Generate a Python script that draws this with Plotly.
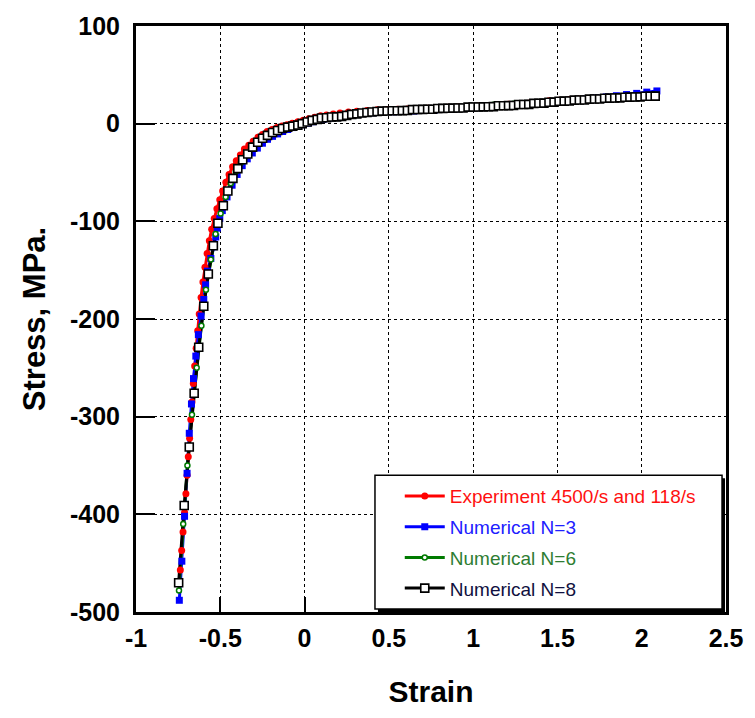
import plotly.graph_objects as go

# ---------------- data ----------------
strain_exp = [-0.737, -0.729, -0.721, -0.712, -0.704, -0.697, -0.690, -0.682, -0.675, -0.668,
              -0.660, -0.652, -0.643, -0.634, -0.625, -0.614, -0.603, -0.591, -0.578, -0.565,
              -0.551, -0.536, -0.520, -0.503, -0.486, -0.467, -0.448, -0.427, -0.405, -0.381,
              -0.357, -0.331, -0.305, -0.277, -0.250, -0.222, -0.193, -0.164, -0.134, -0.104,
              -0.073, -0.040, -0.008, 0.025, 0.060, 0.095, 0.13, 0.17, 0.21, 0.26, 0.31, 0.37,
              0.43, 0.49, 0.55, 0.61, 0.67, 0.73, 0.79, 0.85, 0.91, 0.97, 1.03, 1.09, 1.15,
              1.21, 1.27, 1.33, 1.39, 1.45, 1.51, 1.57, 1.63, 1.69, 1.75, 1.81, 1.87, 1.93, 1.99]
stress_exp = [-457, -437, -418, -398, -379, -360, -341, -322, -303, -285,
              -266, -248, -230, -212, -195, -178, -162, -147, -133, -120,
              -108, -97, -87, -78, -69, -60, -52, -44, -38, -32,
              -26, -22, -18, -14, -11, -8, -6, -4, -2.5, -1,
              0.5, 2, 3.5, 5, 6.5, 8, 9, 10, 11, 12, 12.8, 13.5,
              14.2, 14.5, 14.8, 15.1, 15.5, 15.9, 16.3, 16.7, 17.1, 17.5, 18.0, 18.6, 19.2,
              19.8, 20.4, 21.0, 21.7, 23.5, 24.0, 24.8, 25.2, 25.6, 26.0, 26.5, 27.0, 27.5, 28.0]

strain_n3 = [-0.743, -0.728, -0.712, -0.697, -0.684, -0.671, -0.659, -0.645, -0.630, -0.614,
             -0.598, -0.587, -0.576, -0.556, -0.537, -0.527, -0.518, -0.503, -0.488, -0.46,
             -0.43, -0.40, -0.37, -0.34, -0.31, -0.28, -0.25, -0.22, -0.19, -0.16,
             -0.13, -0.10, -0.07, -0.04, -0.01, 0.02, 0.05, 0.08, 0.11, 0.14,
             0.17, 0.20, 0.23, 0.26, 0.29, 0.32, 0.35, 0.38, 0.41, 0.44, 0.47,
             0.53, 0.59, 0.65, 0.71, 0.77, 0.83, 0.89, 0.95, 1.01, 1.07, 1.13, 1.19, 1.25,
             1.31, 1.37, 1.43, 1.49, 1.55, 1.61, 1.67, 1.73, 1.79, 1.85, 1.91, 1.97, 2.03, 2.09]
stress_n3 = [-488, -448, -402, -358, -317, -287, -261, -238, -216, -197,
             -180, -165, -151, -138, -126, -116, -107, -97, -89, -75,
             -63, -52, -43, -36, -30, -25, -20, -16, -13, -10.5,
             -8, -6, -4, -2.5, -1, 0.5, 2, 3.3, 4.5, 5.5,
             6.4, 7.2, 8, 8.7, 9.3, 9.9, 10.4, 10.9, 11.3, 11.7, 12.0,
             12.2, 12.6, 13.0, 13.5, 14.0, 14.5, 15.1, 15.7, 16.4, 17.1, 17.8, 18.5, 19.3,
             20.1, 20.9, 21.7, 22.5, 23.4, 24.3, 25.3, 26.3, 27.4, 28.6, 29.8, 31.0, 32.3, 33.5]

strain_n6 = [-0.745, -0.72, -0.695, -0.668, -0.64, -0.612, -0.585, -0.556, -0.528, -0.498,
             -0.468, -0.438, -0.408, -0.378, -0.348, -0.318, -0.288, -0.258, -0.228, -0.198,
             -0.168, -0.138, -0.108, -0.078, -0.048, -0.018, 0.012, 0.042, 0.072, 0.10,
             0.13, 0.16, 0.19, 0.22, 0.25, 0.28, 0.31, 0.34, 0.37, 0.40, 0.43, 0.46,
             0.52, 0.58, 0.64, 0.70, 0.76, 0.82, 0.88, 0.94, 1.00, 1.06, 1.12, 1.18, 1.24,
             1.30, 1.36, 1.42, 1.48, 1.54, 1.60, 1.66, 1.72, 1.78, 1.84, 1.90, 1.96, 2.02, 2.08]
stress_n6 = [-478, -410, -350, -298, -250, -207, -170, -139, -113, -92,
             -75, -61, -49, -40, -32, -26, -20, -16, -12.5, -9.5,
             -7, -5, -3.3, -2, -0.8, 0.5, 1.8, 3, 4.2, 5.2,
             6.1, 6.9, 7.6, 8.3, 8.9, 9.5, 10.1, 10.6, 11.1, 11.6, 12.0, 12.4,
             12.3, 12.8, 13.3, 13.9, 14.5, 15.2, 15.9, 16.7, 17.6, 18.5, 19.3, 19.8, 20.3,
             20.8, 21.3, 21.9, 22.6, 23.3, 23.9, 24.4, 24.9, 25.7, 26.6, 27.4, 28.2, 29.0, 29.8]

strain_n8 = [-0.747, -0.714, -0.684, -0.655, -0.628, -0.598, -0.571, -0.541, -0.514, -0.482,
             -0.455, -0.425, -0.396, -0.367, -0.337, -0.308, -0.278, -0.249, -0.22, -0.19,
             -0.16, -0.131, -0.10, -0.07, -0.04, -0.014, 0.016, 0.045, 0.075, 0.10,
             0.13, 0.16, 0.19, 0.22, 0.25, 0.28, 0.31, 0.34, 0.37, 0.40, 0.43, 0.46,
             0.49, 0.52, 0.55, 0.58, 0.61, 0.64, 0.67, 0.70, 0.73, 0.76, 0.79, 0.82,
             0.85, 0.88, 0.91, 0.94, 0.97, 1.00, 1.03, 1.06, 1.09, 1.12, 1.15, 1.18,
             1.21, 1.24, 1.27, 1.30, 1.33, 1.36, 1.39, 1.42, 1.45, 1.48, 1.51, 1.54,
             1.57, 1.60, 1.63, 1.66, 1.69, 1.72, 1.75, 1.78, 1.81, 1.84, 1.87, 1.90,
             1.93, 1.96, 1.99, 2.02, 2.05, 2.08]
stress_n8 = [-470, -391, -331, -276, -229, -187, -154, -125, -102, -84,
             -69, -56, -46, -37, -31, -24, -19, -15, -12, -9,
             -7, -5, -3.5, -2.5, -1.5, 0, 1.7, 3.4, 4.4, 5.8,
             6.1, 6.8, 7.0, 7.5, 8.5, 9.5, 10.0, 10.9, 11.5, 12.0, 12.5, 12.8,
             13.0, 13.2, 13.3, 13.4, 13.5, 14.4, 14.5, 14.6, 14.7, 14.8, 15.6, 15.7,
             15.8, 15.9, 16.0, 16.1, 16.9, 17.0, 17.1, 17.2, 17.3, 17.4, 18.3, 18.4,
             18.5, 18.6, 19.6, 19.7, 19.8, 20.8, 20.9, 21.0, 22.0, 22.1, 23.0, 23.1,
             23.2, 24.1, 24.2, 24.3, 25.1, 25.2, 25.3, 26.1, 26.2, 26.3, 26.4, 27.1,
             27.2, 27.3, 27.4, 28.0, 28.1, 28.2]

series_names = ["Experiment 4500/s and 118/s", "Numerical N=3", "Numerical N=6", "Numerical N=8"]
x_ticks = [-1, -0.5, 0, 0.5, 1, 1.5, 2, 2.5]
y_ticks = [-500, -400, -300, -200, -100, 0, 100]

# ---------------- styling ----------------
FONT = "Liberation Sans, Arial, sans-serif"
RED, BLUE, GREEN, BLACK = "#FF0000", "#0000FF", "#007A00", "#000000"
TXT = {RED: "#FF1010", BLUE: "#2020FF", GREEN: "#2E7D32", BLACK: "#101040"}

series = [
    (strain_exp, stress_exp, RED, dict(symbol="circle", size=7, color=RED, line=dict(width=0))),
    (strain_n3, stress_n3, BLUE, dict(symbol="square", size=7, color=BLUE, line=dict(width=0))),
    (strain_n6, stress_n6, GREEN, dict(symbol="circle", size=5, color="white", line=dict(width=1.5, color=GREEN))),
    (strain_n8, stress_n8, BLACK, dict(symbol="square", size=8, color="white", line=dict(width=1.6, color=BLACK))),
]

fig = go.Figure()
# lines first (as in the original, markers are drawn over every line)
for xs, ys, col, mk in series:
    fig.add_trace(go.Scatter(x=xs, y=ys, mode="lines", line=dict(color=col, width=3),
                             showlegend=False, hoverinfo="skip"))
for xs, ys, col, mk in series:
    fig.add_trace(go.Scatter(x=xs, y=ys, mode="markers", marker=mk, showlegend=False))
# legend entries
for i, ((xs, ys, col, mk), name) in enumerate(zip(series, series_names)):
    fig.add_trace(go.Scatter(x=[None], y=[None], mode="lines+markers",
                             line=dict(color=col, width=3), marker=mk,
                             name=f'<span style="color:{TXT[col]}">{name}</span>',
                             legendgroup=f"g{i}", showlegend=True))

# plot area in pixels
W, H = 755, 718
L, R, T, B = 136, 731, 21, 612

def px(xp):
    return (xp - L) / (R - L)

def py(yp):
    return (B - yp) / (B - T)

# legend box (with a drop shadow)
fig.add_shape(type="rect", xref="paper", yref="paper", layer="above",
              x0=px(380), x1=px(730), y0=py(612), y1=py(477),
              fillcolor="black", line=dict(width=0))
fig.add_shape(type="rect", xref="paper", yref="paper", layer="above",
              x0=px(377), x1=px(727), y0=py(609), y1=py(474),
              fillcolor="white", line=dict(color="black", width=1.5))

axis_common = dict(
    showline=True, linecolor="black", linewidth=3, mirror=True,
    showgrid=True, gridcolor="black", gridwidth=1, griddash="dot",
    zeroline=False, ticks="inside", tickcolor="black", tickwidth=1.5,
    tickfont=dict(family=FONT, size=25, color="black", weight="bold"),
)

fig.update_xaxes(range=[-1, 2.5], tickvals=x_ticks, ticktext=[f"{v:g}" for v in x_ticks],
                 ticklen=15, ticklabelstandoff=2,
                 title=dict(text="Strain", font=dict(family=FONT, size=30, color="black", weight="bold"),
                            standoff=30),
                 **axis_common)
fig.update_yaxes(range=[-500, 100], tickvals=y_ticks, ticktext=[f"{v:g}" for v in y_ticks],
                 ticklen=19, ticklabelstandoff=8,
                 title=dict(text="Stress, MPa.", font=dict(family=FONT, size=31, color="black", weight="bold"),
                            standoff=16),
                 **axis_common)

fig.update_layout(
    width=W, height=H,
    margin=dict(l=L, r=W - R, t=T, b=H - B),
    plot_bgcolor="white", paper_bgcolor="white",
    showlegend=True,
    legend=dict(x=px(402), y=py(476), xanchor="left", yanchor="top",
                bgcolor="rgba(0,0,0,0)", borderwidth=0,
                font=dict(family=FONT, size=19), itemwidth=40,
                traceorder="grouped", tracegroupgap=3),
    hovermode=False,
)

fig.write_html("out.html")
